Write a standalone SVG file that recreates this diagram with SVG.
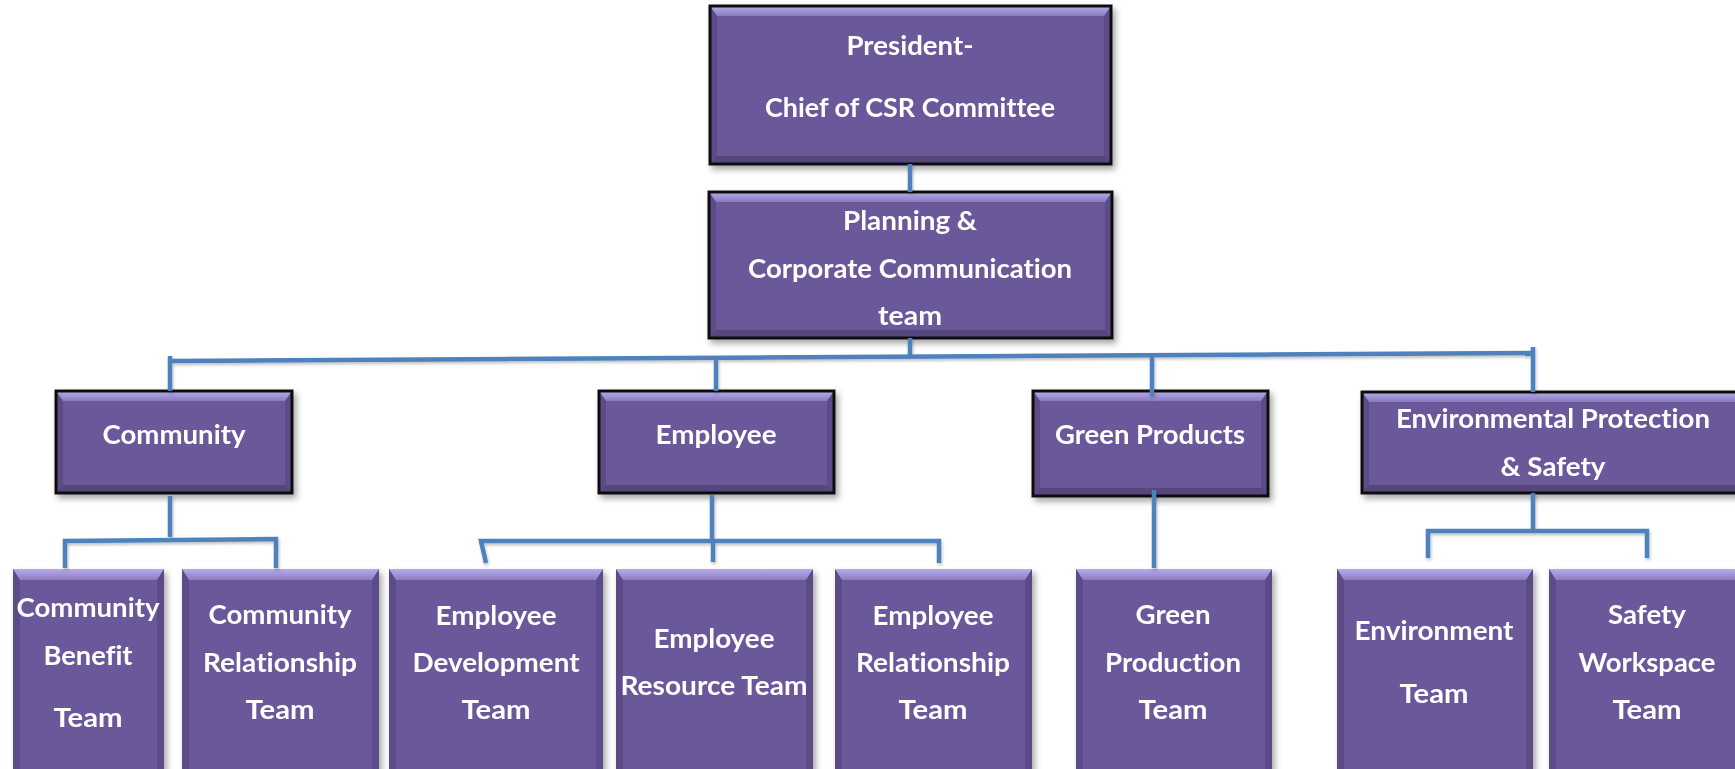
<svg xmlns="http://www.w3.org/2000/svg" width="1735" height="769" viewBox="0 0 1735 769">
<defs>
<linearGradient id="gTop" x1="0" y1="0" x2="0" y2="1">
<stop offset="0" stop-color="#B8ABE8"/>
<stop offset="1" stop-color="#8B7CC2"/>
</linearGradient>
<filter id="sh" x="-10%" y="-10%" width="130%" height="140%">
<feDropShadow dx="3" dy="4" stdDeviation="3" flood-color="#000" flood-opacity="0.35"/>
</filter>
<filter id="lsh" x="-10%" y="-10%" width="130%" height="140%">
<feDropShadow dx="1" dy="2" stdDeviation="1.5" flood-color="#000" flood-opacity="0.25"/>
</filter>
<style>
.face{fill:#6A589B}
.bt{fill:url(#gTop)}
.bl{fill:#000;fill-opacity:0.13}
.bb{fill:#000;fill-opacity:0.2}
.frame{fill:none;stroke:#111;stroke-width:3}
.node{filter:url(#sh)}
.t{font-family:Lato,"Open Sans","Liberation Sans",sans-serif;font-weight:700;font-size:26.5px;fill:#FFFFFF;text-anchor:middle;font-variant-ligatures:none;font-feature-settings:"liga" 0}
.c{fill:none;stroke:#4F81BD;stroke-width:4.5;stroke-linecap:butt;stroke-linejoin:miter}
</style>
</defs>
<rect width="1735" height="769" fill="#FFFFFF"/>

<g id="president" class="node">
<rect class="face" x="710" y="6" width="401" height="158"/>
<path class="bt" d="M710,6 H1111 L1104,16 H717 Z"/>
<path class="bl" d="M710,6 L717,16 V156 L710,164 Z"/>
<path class="bl" d="M1111,6 L1104,16 V156 L1111,164 Z"/>
<path class="bb" d="M710,164 L717,156 H1104 L1111,164 Z"/>
<rect class="frame" x="710" y="6" width="401" height="158"/>
<text class="t" x="910" y="55" textLength="127" lengthAdjust="spacingAndGlyphs">President-</text>
<text class="t" x="910" y="117" textLength="290" lengthAdjust="spacingAndGlyphs">Chief of CSR Committee</text>
</g>

<g id="planning" class="node">
<rect class="face" x="709" y="192" width="403" height="146"/>
<path class="bt" d="M709,192 H1112 L1105,202 H716 Z"/>
<path class="bl" d="M709,192 L716,202 V330 L709,338 Z"/>
<path class="bl" d="M1112,192 L1105,202 V330 L1112,338 Z"/>
<path class="bb" d="M709,338 L716,330 H1105 L1112,338 Z"/>
<rect class="frame" x="709" y="192" width="403" height="146"/>
<text class="t" x="910" y="230" textLength="134" lengthAdjust="spacingAndGlyphs">Planning &amp;</text>
<text class="t" x="910" y="278" textLength="324" lengthAdjust="spacingAndGlyphs">Corporate Communication</text>
<text class="t" x="910" y="325" textLength="64" lengthAdjust="spacingAndGlyphs">team</text>
</g>

<g id="community" class="node">
<rect class="face" x="56" y="391" width="236" height="102"/>
<path class="bt" d="M56,391 H292 L285,401 H63 Z"/>
<path class="bl" d="M56,391 L63,401 V485 L56,493 Z"/>
<path class="bl" d="M292,391 L285,401 V485 L292,493 Z"/>
<path class="bb" d="M56,493 L63,485 H285 L292,493 Z"/>
<rect class="frame" x="56" y="391" width="236" height="102"/>
<text class="t" x="174" y="444" textLength="143" lengthAdjust="spacingAndGlyphs">Community</text>
</g>

<g id="employee" class="node">
<rect class="face" x="599" y="391" width="235" height="102"/>
<path class="bt" d="M599,391 H834 L827,401 H606 Z"/>
<path class="bl" d="M599,391 L606,401 V485 L599,493 Z"/>
<path class="bl" d="M834,391 L827,401 V485 L834,493 Z"/>
<path class="bb" d="M599,493 L606,485 H827 L834,493 Z"/>
<rect class="frame" x="599" y="391" width="235" height="102"/>
<text class="t" x="716" y="444" textLength="121" lengthAdjust="spacingAndGlyphs">Employee</text>
</g>

<g id="green-products" class="node">
<rect class="face" x="1033" y="391" width="235" height="105"/>
<path class="bt" d="M1033,391 H1268 L1261,401 H1040 Z"/>
<path class="bl" d="M1033,391 L1040,401 V488 L1033,496 Z"/>
<path class="bl" d="M1268,391 L1261,401 V488 L1268,496 Z"/>
<path class="bb" d="M1033,496 L1040,488 H1261 L1268,496 Z"/>
<rect class="frame" x="1033" y="391" width="235" height="105"/>
<text class="t" x="1150" y="444" textLength="190" lengthAdjust="spacingAndGlyphs">Green Products</text>
</g>

<g id="env-protection" class="node">
<rect class="face" x="1362" y="392" width="383" height="101"/>
<path class="bt" d="M1362,392 H1745 L1738,402 H1369 Z"/>
<path class="bl" d="M1362,392 L1369,402 V485 L1362,493 Z"/>
<path class="bl" d="M1745,392 L1738,402 V485 L1745,493 Z"/>
<path class="bb" d="M1362,493 L1369,485 H1738 L1745,493 Z"/>
<rect class="frame" x="1362" y="392" width="383" height="101"/>
<text class="t" x="1553" y="428" textLength="314" lengthAdjust="spacingAndGlyphs">Environmental Protection</text>
<text class="t" x="1553" y="476" textLength="105" lengthAdjust="spacingAndGlyphs">&amp; Safety</text>
</g>

<g id="community-benefit" class="node">
<rect class="face" x="13" y="569" width="151" height="221"/>
<path class="bt" d="M13,569 H164 L157,580 H20 Z"/>
<path class="bl" d="M13,569 L20,580 V790 H13 Z"/>
<path class="bl" d="M164,569 L157,580 V790 H164 Z"/>
<text class="t" x="88" y="617" textLength="143" lengthAdjust="spacingAndGlyphs">Community</text>
<text class="t" x="88" y="665" textLength="89" lengthAdjust="spacingAndGlyphs">Benefit</text>
<text class="t" x="88" y="727" textLength="69" lengthAdjust="spacingAndGlyphs">Team</text>
</g>

<g id="community-relationship" class="node">
<rect class="face" x="182" y="569" width="197" height="221"/>
<path class="bt" d="M182,569 H379 L372,580 H189 Z"/>
<path class="bl" d="M182,569 L189,580 V790 H182 Z"/>
<path class="bl" d="M379,569 L372,580 V790 H379 Z"/>
<text class="t" x="280" y="624" textLength="143" lengthAdjust="spacingAndGlyphs">Community</text>
<text class="t" x="280" y="672" textLength="154" lengthAdjust="spacingAndGlyphs">Relationship</text>
<text class="t" x="280" y="719" textLength="69" lengthAdjust="spacingAndGlyphs">Team</text>
</g>

<g id="employee-development" class="node">
<rect class="face" x="389" y="569" width="214" height="221"/>
<path class="bt" d="M389,569 H603 L596,580 H396 Z"/>
<path class="bl" d="M389,569 L396,580 V790 H389 Z"/>
<path class="bl" d="M603,569 L596,580 V790 H603 Z"/>
<text class="t" x="496" y="625" textLength="121" lengthAdjust="spacingAndGlyphs">Employee</text>
<text class="t" x="496" y="672" textLength="167" lengthAdjust="spacingAndGlyphs">Development</text>
<text class="t" x="496" y="719" textLength="69" lengthAdjust="spacingAndGlyphs">Team</text>
</g>

<g id="employee-resource" class="node">
<rect class="face" x="616" y="569" width="197" height="221"/>
<path class="bt" d="M616,569 H813 L806,580 H623 Z"/>
<path class="bl" d="M616,569 L623,580 V790 H616 Z"/>
<path class="bl" d="M813,569 L806,580 V790 H813 Z"/>
<text class="t" x="714" y="648" textLength="121" lengthAdjust="spacingAndGlyphs">Employee</text>
<text class="t" x="714" y="695" textLength="187" lengthAdjust="spacingAndGlyphs">Resource Team</text>
</g>

<g id="employee-relationship" class="node">
<rect class="face" x="835" y="569" width="197" height="221"/>
<path class="bt" d="M835,569 H1032 L1025,580 H842 Z"/>
<path class="bl" d="M835,569 L842,580 V790 H835 Z"/>
<path class="bl" d="M1032,569 L1025,580 V790 H1032 Z"/>
<text class="t" x="933" y="625" textLength="121" lengthAdjust="spacingAndGlyphs">Employee</text>
<text class="t" x="933" y="672" textLength="154" lengthAdjust="spacingAndGlyphs">Relationship</text>
<text class="t" x="933" y="719" textLength="69" lengthAdjust="spacingAndGlyphs">Team</text>
</g>

<g id="green-production" class="node">
<rect class="face" x="1076" y="569" width="196" height="221"/>
<path class="bt" d="M1076,569 H1272 L1265,580 H1083 Z"/>
<path class="bl" d="M1076,569 L1083,580 V790 H1076 Z"/>
<path class="bl" d="M1272,569 L1265,580 V790 H1272 Z"/>
<text class="t" x="1173" y="624" textLength="75" lengthAdjust="spacingAndGlyphs">Green</text>
<text class="t" x="1173" y="672" textLength="136" lengthAdjust="spacingAndGlyphs">Production</text>
<text class="t" x="1173" y="719" textLength="69" lengthAdjust="spacingAndGlyphs">Team</text>
</g>

<g id="environment-team" class="node">
<rect class="face" x="1337" y="569" width="196" height="221"/>
<path class="bt" d="M1337,569 H1533 L1526,580 H1344 Z"/>
<path class="bl" d="M1337,569 L1344,580 V790 H1337 Z"/>
<path class="bl" d="M1533,569 L1526,580 V790 H1533 Z"/>
<text class="t" x="1434" y="640" textLength="159" lengthAdjust="spacingAndGlyphs">Environment</text>
<text class="t" x="1434" y="703" textLength="69" lengthAdjust="spacingAndGlyphs">Team</text>
</g>

<g id="safety-workspace" class="node">
<rect class="face" x="1549" y="569" width="196" height="221"/>
<path class="bt" d="M1549,569 H1745 L1738,580 H1556 Z"/>
<path class="bl" d="M1549,569 L1556,580 V790 H1549 Z"/>
<text class="t" x="1647" y="624" textLength="78" lengthAdjust="spacingAndGlyphs">Safety</text>
<text class="t" x="1647" y="672" textLength="137" lengthAdjust="spacingAndGlyphs">Workspace</text>
<text class="t" x="1647" y="719" textLength="69" lengthAdjust="spacingAndGlyphs">Team</text>
</g>

<g id="connectors" class="c" filter="url(#lsh)">
<path d="M910,164 V192"/>
<path d="M910,338 V357"/>
<path d="M170,361 L1533,353"/>
<path d="M170,356 V391"/>
<path d="M716,358 V391"/>
<path d="M1152,355 V396"/>
<path d="M1533,347 V392"/>
<path d="M170,496 V537"/>
<path d="M65,568 V541 L276,539 V568"/>
<path d="M712,495 V541"/>
<path d="M486,563 L481,541 L939,541 V563"/>
<path d="M713,541 V562"/>
<path d="M1154,490 V568"/>
<path d="M1533,493 V531"/>
<path d="M1428,558 V531 H1647 V558"/>
</g>
</svg>
